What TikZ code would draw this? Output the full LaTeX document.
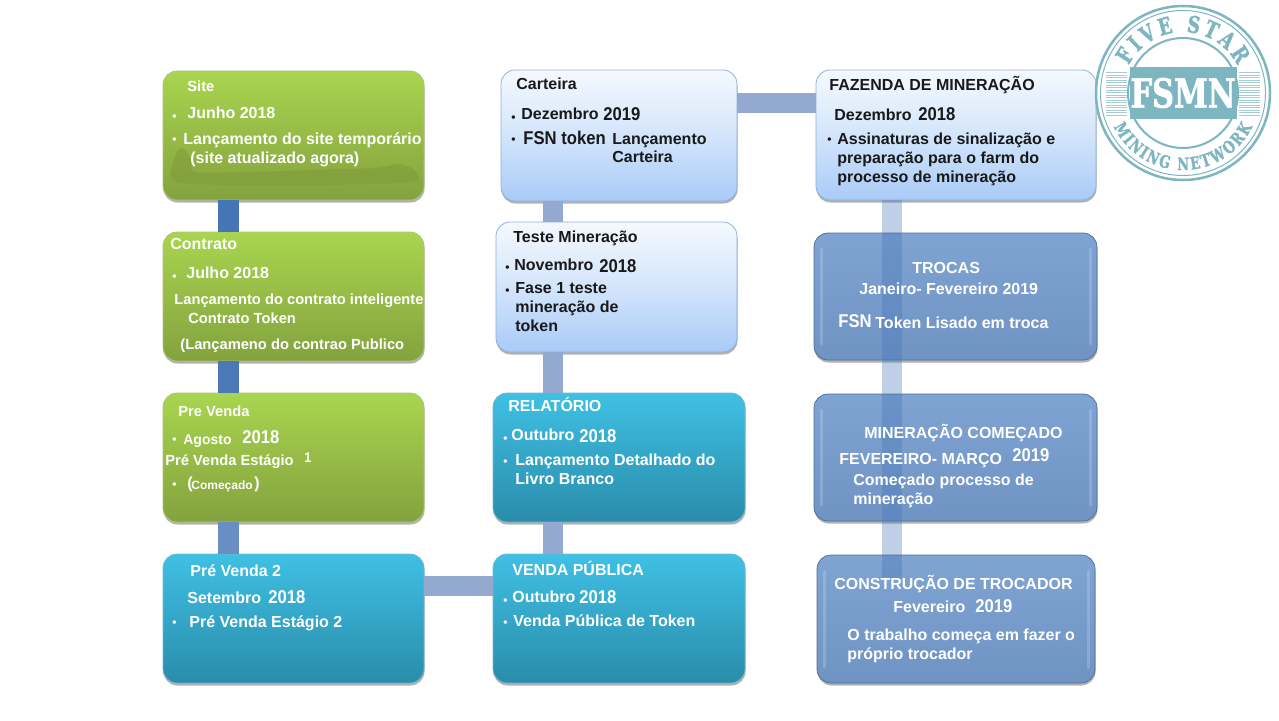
\documentclass[tikz,border=0pt]{standalone}
\usepackage{fontspec}
\setmainfont{Liberation Sans}
\newfontfamily\narrowfont[FakeStretch=0.9]{Liberation Sans}
\newfontfamily\logofont[FakeStretch=0.76,FakeBold=1.5]{DejaVu Serif}
\usetikzlibrary{shadows,decorations.text}
\definecolor{greentop}{HTML}{A9D54F}
\definecolor{greenlow}{HTML}{83A23E}
\definecolor{greenpatch}{HTML}{7F9C3B}
\definecolor{cyantop}{HTML}{3FC0E4}
\definecolor{cyanlow}{HTML}{2A8CAA}
\definecolor{palelow}{HTML}{A8CBF7}
\definecolor{paleline}{HTML}{8FAEDA}
\definecolor{steeltop}{HTML}{7FA3D2}
\definecolor{steellow}{HTML}{6F94C4}
\definecolor{steelline}{HTML}{4F6F96}
\definecolor{logoteal}{HTML}{7DB6C0}
\definecolor{linkdark}{HTML}{4675B6}
\definecolor{linkmid}{HTML}{6A8EC4}
\definecolor{linkpale}{HTML}{93A9D0}
\begin{document}
\begin{tikzpicture}
[x=1pt, y=-1pt, line width=0.75pt,
box/.style={rectangle, rounded corners=14pt, inner sep=0pt, outer sep=0pt,
  drop shadow={shadow xshift=0.5pt, shadow yshift=-2.5pt, opacity=0.3, fill=black}},
greenbox/.style={box, top color=greentop, bottom color=greenlow, draw=greentop!80!black!70},
cyanbox/.style={box, top color=cyantop, bottom color=cyanlow, draw=cyantop!80!black!70},
palebox/.style={box, top color=white!88!palelow, bottom color=palelow, middle color=white!50!palelow, draw=paleline},
steelbox/.style={box, top color=steeltop, bottom color=steellow, draw=steelline},
link/.style={line width=20.5pt},
glow/.style={white, opacity=0.18, line width=3pt, line cap=round},
wtext/.style={anchor=west, inner sep=0pt, text height=11.5pt, text depth=0pt, text=white, font=\fontsize{16}{16}\selectfont\bfseries},
dtext/.style={wtext, text=black!90},
year/.style={font=\fontsize{18.5}{18.5}\selectfont\narrowfont\bfseries},
small/.style={font=\fontsize{14.7}{14.7}\selectfont\bfseries},
dot/.style={font=\fontsize{12}{12}\selectfont\bfseries}]

\useasboundingbox (0,0) rectangle (1279,720);

% first column
\node[greenbox, minimum width=261, minimum height=129] (site) at (293.5,135.5) {};
\node[greenbox, minimum width=261, minimum height=129] (contrato) at (293.5,296.5) {};
\node[greenbox, minimum width=261, minimum height=129] (prevenda) at (293.5,457.5) {};
\node[cyanbox, minimum width=261, minimum height=129] (prevenda2) at (293.5,618.5) {};
\fill[greenpatch, opacity=0.6] plot[smooth cycle, tension=0.4] coordinates {(177,152) (184,149) (191,160) (195,172)
  (250,172) (310,170) (375,168) (398,164) (413,169) (413,182) (300,185) (177,182)};

% second column
\node[palebox, minimum width=236, minimum height=131] (carteira) at (619,135.5) {};
\node[palebox, minimum width=241, minimum height=130] (teste) at (616.5,287) {};
\node[cyanbox, minimum width=252, minimum height=129] (relatorio) at (619,457.5) {};
\node[cyanbox, minimum width=252, minimum height=129] (publica) at (619,618.5) {};

% third column
\node[palebox, minimum width=280, minimum height=130] (fazenda) at (956,135) {};
\node[steelbox, minimum width=283, minimum height=127] (trocas) at (955.5,296.5) {};
\node[steelbox, minimum width=283, minimum height=127] (comecado) at (955.5,457.5) {};
\node[steelbox, minimum width=278, minimum height=128] (trocador) at (956,619) {};
\foreach \boxname in {trocas,comecado,trocador} {
  \draw[glow] ([xshift=7,yshift=-16]\boxname.north west) -- ([xshift=7,yshift=16]\boxname.south west);
  \draw[glow] ([xshift=-7,yshift=-16]\boxname.north east) -- ([xshift=-7,yshift=16]\boxname.south east);
}

\draw[link, linkdark] ([xshift=-65]site.south) -- ([xshift=-65]contrato.north);
\draw[link, linkdark!85!linkmid] ([xshift=-65]contrato.south) -- ([xshift=-65]prevenda.north);
\draw[link, linkmid] ([xshift=-65]prevenda.south) -- ([xshift=-65]prevenda2.north);
\draw[link, linkpale] (prevenda2.east |- 0,586) -- (publica.west |- 0,586);
\draw[link, linkpale] (publica.north -| 553,0) -- (relatorio.south -| 553,0);
\draw[link, linkpale] (relatorio.north -| 553,0) -- (teste.south -| 553,0);
\draw[link, linkpale] (teste.north -| 553,0) -- (carteira.south -| 553,0);
\draw[link, linkpale] (carteira.east |- 0,103) -- (fazenda.west |- 0,103);
\draw[link, linkdark, opacity=0.35] (fazenda.south -| 892,0) -- ([yshift=-23]trocador.north -| 892,0);

% logo
\begin{scope}[shift={(1183,93)}, y=1pt]
\fill[white] (0,0) circle (88);
\draw[logoteal, line width=2.5pt] (0,0) circle (87);
\draw[logoteal, line width=1pt] (0,0) circle (82.5);
\draw[logoteal, line width=2pt] (0,0) circle (55);
\foreach \y in {-22,-19.5,...,22} {
  \draw[logoteal!70, line width=0.9pt] (-77,\y) -- (-56,\y);
  \draw[logoteal!70, line width=0.9pt] (56,\y) -- (77,\y);
}
\node[fill=logoteal, minimum width=107, minimum height=52, inner sep=0pt] (band) at (0,0) {};
\node[text=white, inner sep=0pt, font=\fontsize{40}{40}\selectfont\logofont\bfseries] (fsmn) at (0,0) {FSMN};
\path[decorate, decoration={text along path, text align={fit to path},
  text={|\fontsize{23}{23}\selectfont\logofont\bfseries\color{logoteal}|FIVE STAR}}]
  (153:61) arc (153:27:61);
\path[decorate, decoration={text along path, text align={fit to path},
  text={|\fontsize{17}{17}\selectfont\logofont\bfseries\color{logoteal}|MINING NETWORK}}]
  (206:77) arc (206:334:77);
\end{scope}

% first column text
\node[wtext, small] (site0) at (187,86) {Site};
\node[wtext, dot] (site1) at (172,115) {•};
\node[wtext] (site2) at (187,113) {Junho 2018};
\node[wtext, dot] (site3) at (172,138) {•};
\node[wtext] (site4) at (183,139) {Lançamento do site temporário};
\node[wtext] (site5) at (190,158) {(site atualizado agora)};

\node[wtext] (contrato0) at (170,244) {Contrato};
\node[wtext, dot] (contrato1) at (172,275) {•};
\node[wtext] (contrato2) at (186,273) {Julho 2018};
\node[wtext, small] (contrato3) at (174,299) {Lançamento do contrato inteligente};
\node[wtext, small] (contrato4) at (188,318) {Contrato Token};
\node[wtext, small] (contrato5) at (180,344) {(Lançameno do contrao Publico};

\node[wtext, small] (pre0) at (178,411) {Pre Venda};
\node[wtext, dot] (pre1) at (172,438) {•};
\node[wtext, font=\fontsize{14}{14}\selectfont\bfseries] (pre2) at (183,439) {Agosto};
\node[wtext, year] (pre3) at (242,438) {2018};
\node[wtext, small] (pre4) at (165,460) {Pré Venda Estágio};
\node[wtext, font=\fontsize{14}{14}\selectfont\narrowfont\bfseries] (pre5) at (304,457) {1};
\node[wtext, dot] (pre6) at (172,483) {•};
\node[wtext] (pre7) at (187,483) {(};
\node[wtext, font=\fontsize{12}{12}\selectfont\bfseries] (pre8) at (191,484) {Começado};
\node[wtext] (pre9) at (254,483) {)};

\node[wtext] (dois0) at (190,571) {Pré Venda 2};
\node[wtext] (dois1) at (187,598) {Setembro};
\node[wtext, year] (dois2) at (268,598) {2018};
\node[wtext, dot] (dois3) at (172,621) {•};
\node[wtext] (dois4) at (189,622) {Pré Venda Estágio 2};

% second column text
\node[dtext] (cart0) at (516,84) {Carteira};
\node[dtext, dot] (cart1) at (511,116) {•};
\node[dtext] (cart2) at (521,114) {Dezembro};
\node[dtext, year] (cart3) at (603,115) {2019};
\node[dtext, dot] (cart4) at (511,138) {•};
\node[dtext, year] (cart5) at (523,139) {FSN token};
\node[dtext] (cart6) at (612,139) {Lançamento};
\node[dtext] (cart7) at (612,157) {Carteira};

\node[dtext] (teste0) at (513,237) {Teste Mineração};
\node[dtext, dot] (teste1) at (505,266) {•};
\node[dtext] (teste2) at (514,265) {Novembro};
\node[dtext, year] (teste3) at (599,267) {2018};
\node[dtext, dot] (teste4) at (505,289) {•};
\node[dtext] (teste5) at (515,288) {Fase 1 teste};
\node[dtext] (teste6) at (515,307) {mineração de};
\node[dtext] (teste7) at (515,326) {token};

\node[wtext] (rel0) at (508,406) {RELATÓRIO};
\node[wtext, dot] (rel1) at (503,437) {•};
\node[wtext] (rel2) at (511,435) {Outubro};
\node[wtext, year] (rel3) at (579,437) {2018};
\node[wtext, dot] (rel4) at (503,460) {•};
\node[wtext] (rel5) at (515,460) {Lançamento Detalhado do};
\node[wtext] (rel6) at (515,479) {Livro Branco};

\node[wtext] (pub0) at (512,570) {VENDA PÚBLICA};
\node[wtext, dot] (pub1) at (503,599) {•};
\node[wtext] (pub2) at (512,597) {Outubro};
\node[wtext, year] (pub3) at (579,598) {2018};
\node[wtext, dot] (pub4) at (503,621) {•};
\node[wtext] (pub5) at (513,621) {Venda Pública de Token};

% third column text
\node[dtext] (faz0) at (829,85) {FAZENDA DE MINERAÇÃO};
\node[dtext] (faz1) at (834,115) {Dezembro};
\node[dtext, year] (faz2) at (918,115) {2018};
\node[dtext, dot] (faz3) at (827,138) {•};
\node[dtext] (faz4) at (837,139) {Assinaturas de sinalização e};
\node[dtext] (faz5) at (837,158) {preparação para o farm do};
\node[dtext] (faz6) at (837,177) {processo de mineração};

\node[wtext] (troca0) at (912,268) {TROCAS};
\node[wtext] (troca1) at (859,289) {Janeiro- Fevereiro 2019};
\node[wtext, year] (troca2) at (838,322) {FSN};
\node[wtext] (troca3) at (875,323) {Token Lisado em troca};

\node[wtext] (com0) at (864,433) {MINERAÇÃO COMEÇADO};
\node[wtext] (com1) at (839,459) {FEVEREIRO- MARÇO};
\node[wtext, year] (com2) at (1012,456) {2019};
\node[wtext] (com3) at (853,480) {Começado processo de};
\node[wtext] (com4) at (853,499) {mineração};

\node[wtext] (con0) at (834,584) {CONSTRUÇÃO DE TROCADOR};
\node[wtext] (con1) at (893,607) {Fevereiro};
\node[wtext, year] (con2) at (975,607) {2019};
\node[wtext] (con3) at (847,635) {O trabalho começa em fazer o};
\node[wtext] (con4) at (847,654) {próprio trocador};
\end{tikzpicture}
\end{document}
